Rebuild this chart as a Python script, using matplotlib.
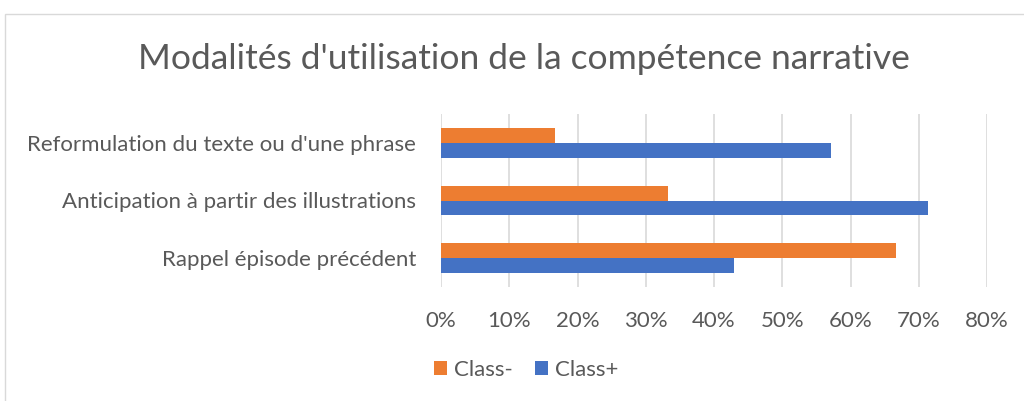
import matplotlib
matplotlib.use("Agg")
import matplotlib.pyplot as plt
from matplotlib.patches import Rectangle
from matplotlib.ticker import FuncFormatter, MultipleLocator
import numpy as np

# Data
categories = ["Reformulation du texte ou d'une phrase",
              "Anticipation à partir des illustrations",
              "Rappel épisode précédent"]
class_minus = [16.7, 33.3, 66.7]
class_plus = [57.1, 71.4, 42.9]
series_names = ["Class-", "Class+"]
title = "Modalités d'utilisation de la compétence narrative"

ORANGE = "#ED7D31"
BLUE = "#4472C4"
GREY_TXT = "#595959"
GRID = "#D9D9D9"

plt.rcParams["font.family"] = ["Lato", "DejaVu Sans"]

fig = plt.figure(figsize=(10.24, 4.01), dpi=100)
fig.patch.set_facecolor("white")

# chart frame
fig.patches.append(Rectangle((5 / 1024, -0.05), 1.1, (401 - 14) / 401 + 0.05,
                             transform=fig.transFigure, fill=False,
                             edgecolor="#D9D9D9", linewidth=1.0))

ax = fig.add_axes([441 / 1024, 114 / 401, 546 / 1024, 173 / 401])

y = np.arange(len(categories))[::-1].astype(float)
h = 0.26
ax.barh(y + h / 2, class_minus, height=h, color=ORANGE, label=series_names[0], zorder=3)
ax.barh(y - h / 2, class_plus, height=h, color=BLUE, label=series_names[1], zorder=3)

ax.set_xlim(0, 80)
ax.set_ylim(-0.5, len(categories) - 0.5)
ax.xaxis.set_major_locator(MultipleLocator(10))
ax.xaxis.set_major_formatter(FuncFormatter(lambda v, p: f"{v:.0f}%"))
ax.set_yticks(y)
ax.set_yticklabels(categories)
ax.grid(axis="x", color=GRID, linewidth=1.2, zorder=0)
for s in ax.spines.values():
    s.set_visible(False)
ax.tick_params(axis="both", length=0, labelcolor=GREY_TXT, labelsize=16)
ax.tick_params(axis="x", pad=17)
ax.tick_params(axis="y", pad=18)

fig.text(524 / 1024, 1 - 59 / 401, title, ha="center", va="center",
         fontsize=25.5, color=GREY_TXT)

leg = fig.legend(loc="center", bbox_to_anchor=(526 / 1024, 1 - 370 / 401), ncol=2,
                 frameon=False, fontsize=16, handlelength=0.6, handleheight=0.6,
                 handletextpad=0.3, columnspacing=1.0, labelcolor=GREY_TXT)

fig.savefig("out.png", dpi=100, facecolor="white")
